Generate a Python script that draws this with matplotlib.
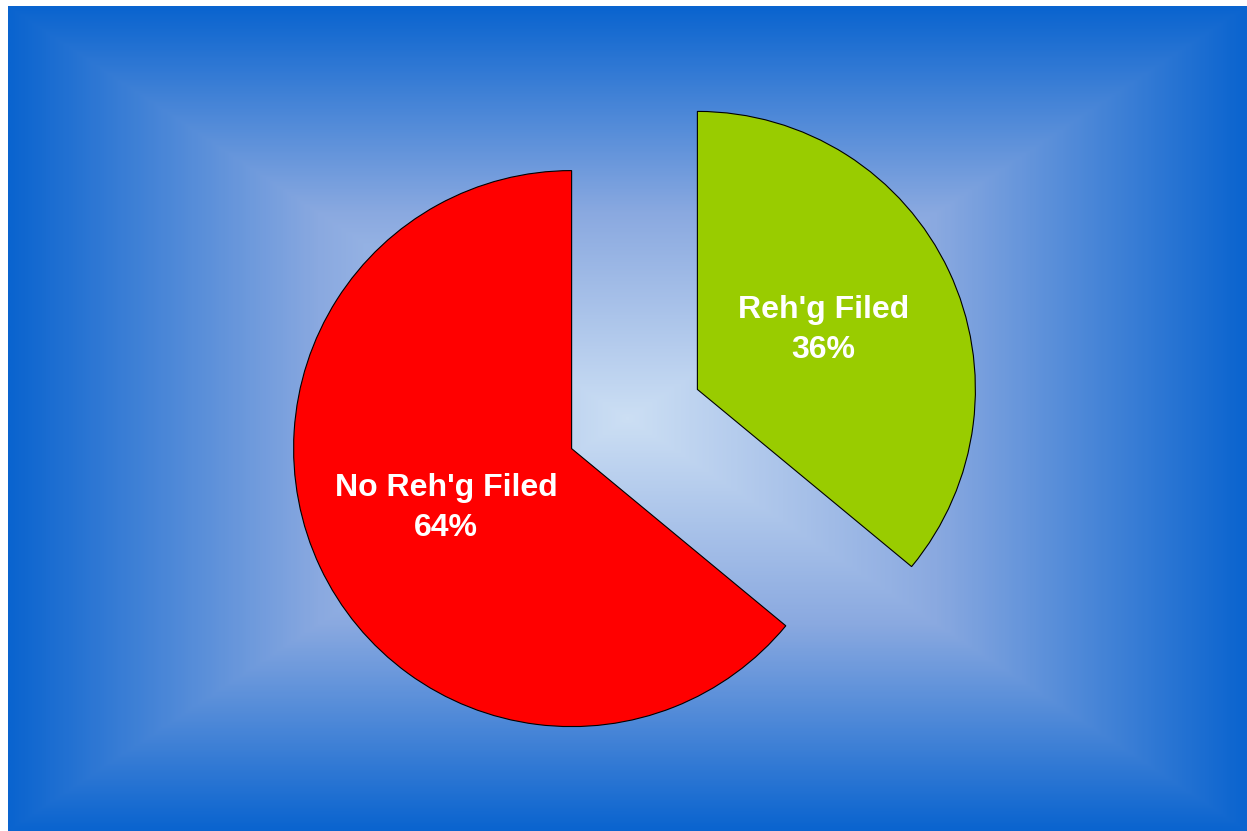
import numpy as np
import matplotlib.pyplot as plt
from matplotlib.colors import LinearSegmentedColormap

# data
labels = ["Reh'g Filed", "No Reh'g Filed"]
shares = [36, 64]
colors = ["#99CC00", "#FF0000"]

W, H = 1247, 831
R = 278.0          # pie radius in pixels
cx, cy = 634.5, 412.0   # pie centre in pixels (y up)

fig = plt.figure(figsize=(W / 100, H / 100), dpi=100)
ax = fig.add_axes([0, 0, 1, 1])

# rectangular "from centre" gradient background
bx0, bx1, by0, by1 = 8, W, 0, H - 6
gx = np.linspace(-1, 1, 600)
gy = np.linspace(-1, 1, 400)
GX, GY = np.meshgrid(gx, gy)
t = np.maximum(np.abs(GX), np.abs(GY))
cmap = LinearSegmentedColormap.from_list("bg", ["#CCDFF4", "#8AA9E0", "#0A64CF"])
ax.imshow(t, cmap=cmap, vmin=0, vmax=1, origin="lower", interpolation="bilinear",
          extent=[(bx0 - cx) / R, (bx1 - cx) / R, (by0 - cy) / R, (by1 - cy) / R],
          zorder=0)

wedges, texts = ax.pie(shares, labels=[f"{l}\n{s}%" for l, s in zip(labels, shares)],
                       colors=colors, startangle=90, counterclock=False,
                       explode=[0.25, 0.25], labeldistance=0.5,
                       wedgeprops=dict(edgecolor="black", linewidth=0.8),
                       textprops=dict(color="white", fontsize=23, fontweight="bold",
                                      family="Liberation Sans", ha="center", va="center",
                                      linespacing=1.45))
for w in wedges:
    w.set_zorder(2)
for tx in texts:
    tx.set_zorder(3)

ax.set_xlim(-cx / R, (W - cx) / R)
ax.set_ylim(-cy / R, (H - cy) / R)
ax.set_aspect("auto")
ax.axis("off")

fig.savefig("out.png", dpi=100, facecolor="white")
